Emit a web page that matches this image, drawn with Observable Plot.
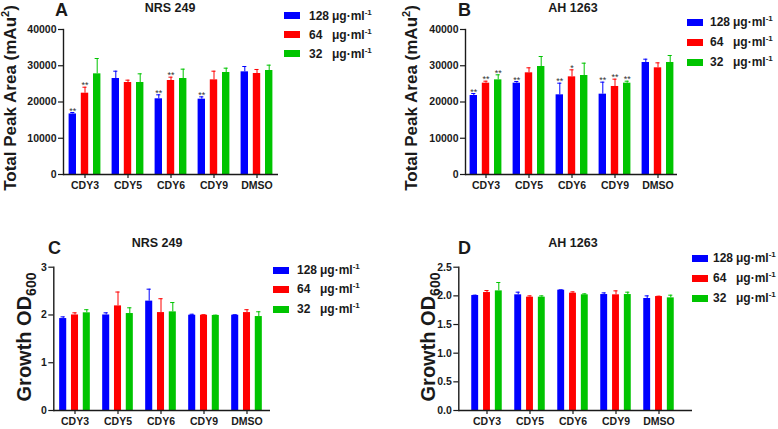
<!DOCTYPE html>
<html>
<head>
<meta charset="utf-8">
<script src="https://cdn.jsdelivr.net/npm/d3@7"></script>
<script src="https://cdn.jsdelivr.net/npm/@observablehq/plot@0.6"></script>
<style>
  html, body { margin: 0; padding: 0; background: #fff; }
  #wrap { position: relative; width: 778px; height: 429px; overflow: hidden; font-family: "Liberation Sans", Arial, sans-serif; font-weight: bold; color: #1a1a1a; }
  .abs { position: absolute; white-space: nowrap; line-height: 1; }
  .ctr { transform: translate(-50%, -50%); }
  .rot { transform: translate(-50%, -50%) rotate(-90deg); }
  .sw { position: absolute; width: 16px; height: 7px; }
  .lg { position: absolute; font-size: 12px; white-space: nowrap; line-height: 1; transform: translateY(-50%); }
  .lg .n { display: inline-block; width: 23px; }
  .lg sup { font-size: 8px; vertical-align: 0; position: relative; top: -5px; }
  svg { position: absolute; }
</style>
</head>
<body>
<div id="wrap"></div>
<script>
const cats = ["CDY3", "CDY5", "CDY6", "CDY9", "DMSO"];
const concs = ["128", "64", "32"];
const colors = ["#0000ff", "#ff0000", "#00c400"];
const titles = ["NRS 249", "AH 1263", "NRS 249", "AH 1263"];
const letters = ["A", "B", "C", "D"];

// Panel A: NRS 249, total peak area
const A128 = [16700, 26480, 20880, 20780, 28320];
const A128err = [400, 2020, 1100, 640, 1470];
const A64 = [22430, 25380, 25930, 26110, 27860];
const A64err = [1650, 640, 920, 2390, 1110];
const A32 = [27770, 25380, 26480, 28140, 28690];
const A32err = [4230, 2390, 2580, 1190, 1470];
const Astars128 = ["**", "", "**", "**", ""];
const Astars64 = ["**", "", "**", "", ""];
const Astars32 = ["", "", "", "", ""];

// Panel B: AH 1263, total peak area
const B128 = [21790, 25190, 21980, 22160, 30900];
const B128err = [550, 460, 3210, 3310, 910];
const B64 = [25190, 28050, 26940, 24280, 29430];
const B64err = [550, 1380, 1930, 2020, 1370];
const B32 = [26110, 29790, 27310, 25190, 30900];
const B32err = [1390, 2760, 3400, 550, 1930];
const Bstars128 = ["**", "**", "**", "**", ""];
const Bstars64 = ["**", "", "*", "**", ""];
const Bstars32 = ["**", "", "", "**", ""];

// Panel C: NRS 249, growth OD600
const C128 = [1.925, 2.00, 2.29, 1.995, 1.995];
const C128err = [0.035, 0.045, 0.25, 0.02, 0.01];
const C64 = [2.00, 2.19, 2.05, 1.995, 2.05];
const C64err = [0.045, 0.29, 0.29, 0.01, 0.06];
const C32 = [2.045, 2.03, 2.065, 1.99, 1.967];
const C32err = [0.065, 0.12, 0.195, 0.006, 0.10];

// Panel D: AH 1263, growth OD600
const D128 = [2.006, 2.018, 2.099, 2.023, 1.954];
const D128err = [0.006, 0.046, 0.006, 0.029, 0.046];
const D64 = [2.058, 1.977, 2.047, 2.018, 1.988];
const D64err = [0.035, 0.023, 0.023, 0.069, 0.006];
const D32 = [2.087, 1.977, 2.018, 2.023, 1.965];
const D32err = [0.146, 0.023, 0.017, 0.041, 0.047];

const peakTicks = [0, 10000, 20000, 30000, 40000];
const odTicksC = [0, 1, 2, 3];
const odTicksD = [0, 0.5, 1.0, 1.5, 2.0, 2.5];

const wrap = document.getElementById("wrap");

function panel(o) {
  const vals = o.vals, errs = o.errs, stars = o.stars;
  const marks = [];
  const bw = (o.xRange[1] - o.xRange[0]) / cats.length;
  concs.forEach((c, si) => {
    const d = cats.map((cat, ci) => ({cat, conc: c, val: vals[si][ci], top: vals[si][ci] + errs[si][ci], star: stars ? stars[si][ci] : ""}));
    const dx = (si - 1) * o.step;
    const col = colors[si];
    marks.push(
      Plot.ruleX(d, {x: "cat", y1: "val", y2: "top", stroke: col, strokeWidth: 1, dx}),
      Plot.tickY(d, {x: "cat", y: "top", stroke: col, strokeWidth: 1, dx, insetLeft: (bw - 5) / 2, insetRight: (bw - 5) / 2}),
      Plot.barY(d, {x: "cat", y: "val", fill: col, dx, insetLeft: (bw - o.barW) / 2, insetRight: (bw - o.barW) / 2}),
      Plot.text(d.filter(r => r.star), {x: "cat", y: "top", text: "star", dx, dy: 1, lineAnchor: "bottom", fontSize: 9, fill: "#333", fontWeight: "normal"})
    );
  });
  const svg = Plot.plot({
    width: o.width, height: o.height,
    marginLeft: o.ml, marginRight: o.mr, marginTop: o.mt, marginBottom: o.mb,
    style: {fontFamily: "'Liberation Sans', Arial, sans-serif", fontWeight: "bold", fontSize: "10px", color: "#1a1a1a", background: "transparent", overflow: "visible"},
    x: {type: "band", domain: cats, range: o.xRange, padding: 0},
    y: {domain: o.yDomain},
    marks: [
      Plot.axisY({ticks: o.yTicks, tickSize: 5, tickPadding: 2, tickFormat: o.yFormat, label: null, fontSize: 10.5, strokeWidth: 1.2}),
      Plot.axisX({tickSize: 4, tickPadding: 3, label: null, fontSize: 10.5, strokeWidth: 1.2}),
      ...marks,
      Plot.ruleY([0], {stroke: "#1a1a1a", strokeWidth: 1.4}),
      Plot.frame({anchor: "left", stroke: "#1a1a1a", strokeWidth: 1.4})
    ]
  });
  svg.style.left = o.left + "px";
  svg.style.top = o.top + "px";
  wrap.appendChild(svg);
}

panel({left: 0, top: 0, width: 290, height: 200, ml: 63, mr: 12, mt: 29, mb: 26,
  xRange: [60.55, 280.05], yDomain: [0, 40000], yTicks: peakTicks, yFormat: d3.format("d"),
  vals: [A128, A64, A32], errs: [A128err, A64err, A32err], stars: [Astars128, Astars64, Astars32], barW: 8.3, step: 12.2});
panel({left: 390, top: 0, width: 300, height: 200, ml: 75, mr: 13, mt: 29, mb: 26,
  xRange: [72.05, 291.55], yDomain: [0, 40000], yTicks: peakTicks, yFormat: d3.format("d"),
  vals: [B128, B64, B32], errs: [B128err, B64err, B32err], stars: [Bstars128, Bstars64, Bstars32], barW: 8.3, step: 12.2});
panel({left: 0, top: 230, width: 290, height: 199, ml: 53.3, mr: 20, mt: 36.7, mb: 19,
  xRange: [51.4, 270.15], yDomain: [0, 3], yTicks: odTicksC, yFormat: d3.format("d"),
  vals: [C128, C64, C32], errs: [C128err, C64err, C32err], stars: null, barW: 7.8, step: 11.8});
panel({left: 390, top: 230, width: 310, height: 199, ml: 68.3, mr: 8, mt: 36.7, mb: 19,
  xRange: [73.05, 292.55], yDomain: [0, 2.5], yTicks: odTicksD, yFormat: d3.format(".1f"),
  vals: [D128, D64, D32], errs: [D128err, D64err, D32err], stars: null, barW: 7.8, step: 11.8});

function addText(html, cls, x, y, size) {
  const el = document.createElement("div");
  el.className = "abs " + cls;
  el.style.left = x + "px";
  el.style.top = y + "px";
  el.style.fontSize = size + "px";
  el.innerHTML = html;
  wrap.appendChild(el);
}

// panel letters and titles
addText(letters[0], "", 55, 1, 18);
addText(letters[1], "", 458, 1, 18);
addText(letters[2], "", 48, 239, 18);
addText(letters[3], "", 458, 239, 18);
addText(titles[0], "ctr", 170, 7.5, 12.5);
addText(titles[1], "ctr", 573, 7.5, 12.5);
addText(titles[2], "ctr", 157, 243, 12.5);
addText(titles[3], "ctr", 573, 243, 12.5);

// y-axis labels
const peakLabel = 'Total Peak Area (mAu<span style="font-size:11px;position:relative;top:-7px">2</span>)';
const odLabel = 'Growth OD<span style="font-size:14px;position:relative;top:5px">600</span>';
addText(peakLabel, "rot", 10, 98, 17);
addText(peakLabel, "rot", 411, 98, 17);
addText(odLabel, "rot", 24, 337, 20);
addText(odLabel, "rot", 428, 337, 20);

// legends
function legend(sx, tx, ys) {
  concs.forEach((c, i) => {
    const sw = document.createElement("div");
    sw.className = "sw";
    sw.style.left = sx + "px";
    sw.style.top = (ys[i] - 3.5) + "px";
    sw.style.background = colors[i];
    wrap.appendChild(sw);
    const t = document.createElement("div");
    t.className = "lg";
    t.style.left = tx + "px";
    t.style.top = ys[i] + "px";
    t.innerHTML = '<span class="n">' + c + '</span>μg·ml<sup>-1</sup>';
    wrap.appendChild(t);
  });
}
legend(284, 309, [15.5, 34.5, 53.7]);
legend(687, 710, [22, 42, 62]);
legend(273, 297, [270, 289, 309]);
legend(692, 713, [258, 278, 298]);
</script>
</body>
</html>
